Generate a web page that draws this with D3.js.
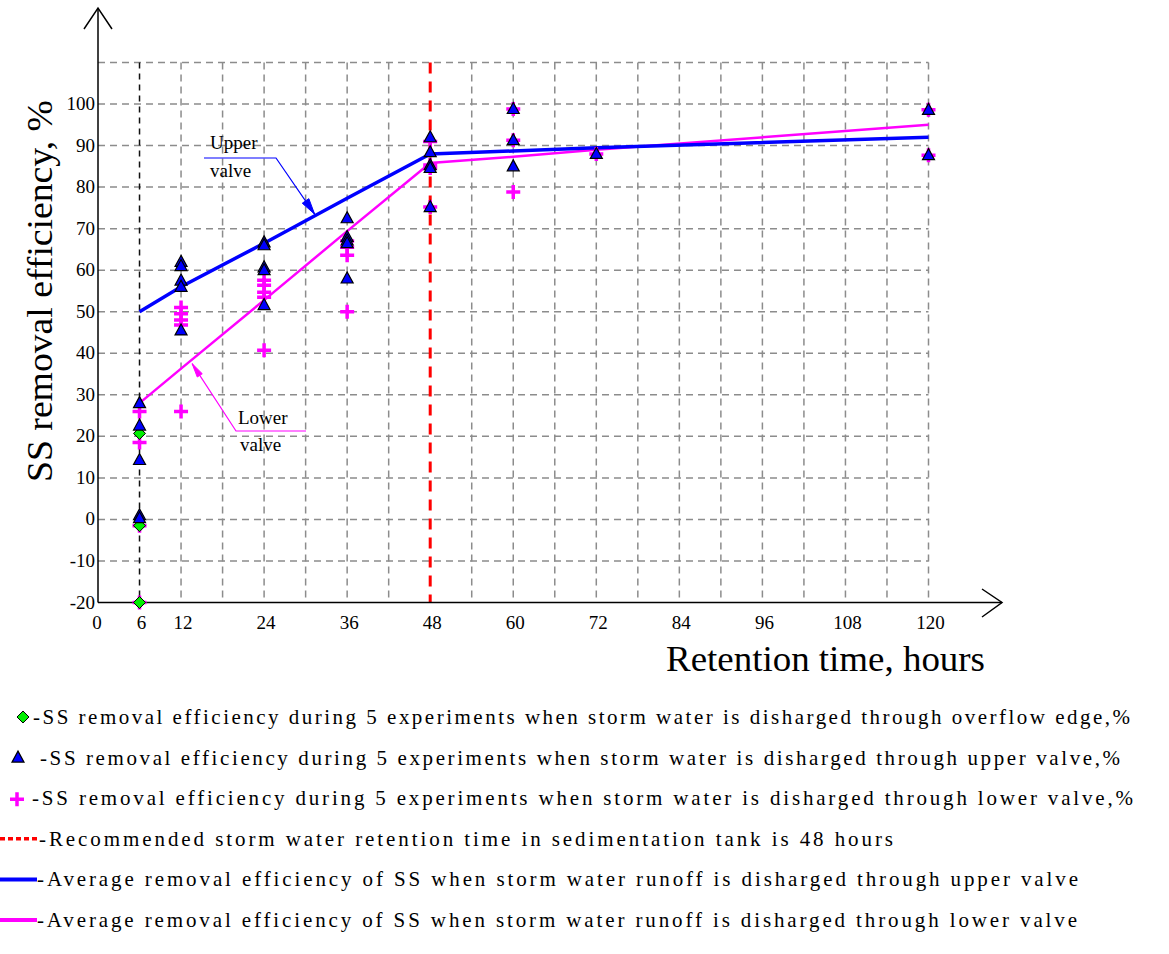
<!DOCTYPE html>
<html>
<head>
<meta charset="utf-8">
<script src="https://cdn.jsdelivr.net/npm/d3@7"></script>
<style>
  body { margin: 0; background: #fff; }
  svg text { font-family: "Liberation Serif", "DejaVu Serif", "Times New Roman", Times, serif; }
</style>
</head>
<body>
<svg id="chart" width="1169" height="954"></svg>
<script>
// retention time ticks and the hours where averages were computed
const xTicks = [0, 6, 12, 24, 36, 48, 60, 72, 84, 96, 108, 120];
const yTicks = [-20, -10, 0, 10, 20, 30, 40, 50, 60, 70, 80, 90, 100];
const avgHours = [6, 12, 24, 36, 48, 60, 72, 120];

// average removal efficiency lines
const upperAvg = [50, 56, 66.5, 77.3, 88, 88.7, 89.5, 92];
const lowerAvg = [28, 36.3, 52.8, 69.4, 85.8, 87.3, 89, 95];

// single experiment results [hours, %]
const overflowPts = [[6, 20.7], [6, -1.5], [6, -20]];
const upperPts = [
  [6, 28], [6, 22.6], [6, 14.3], [6, 1], [6, 0.3],
  [12, 62], [12, 61], [12, 57.5], [12, 56], [12, 45.5],
  [24, 66.7], [24, 60.7], [24, 60], [24, 51.6], [24, 66],
  [36, 72.5], [36, 68], [36, 67.2], [36, 58], [36, 66.5],
  [48, 92], [48, 88.4], [48, 85.3], [48, 84.6], [48, 75.2],
  [60, 98.8], [60, 91.3], [60, 85], [72, 88], [120, 98.6], [120, 87.7]
];
const lowerPts = [
  [6, 26], [6, 18.5], [6, -1.5], [6, -20],
  [12, 51], [12, 49.5], [12, 48], [12, 46.8], [12, 26],
  [24, 57.6], [24, 56.4], [24, 54.7], [24, 53.5], [24, 40.7],
  [36, 65.5], [36, 63.6], [36, 67], [36, 50],
  [48, 91], [48, 85.3], [48, 84.6], [48, 75.2],
  [60, 98.8], [60, 91.3], [60, 78.8], [72, 88], [120, 98.6], [120, 87.7]
];

const legendItems = [
  {type: 'diamond', text: '-SS removal efficiency during 5 experiments when storm water is disharged through overflow edge,%', x0: 33, x1: 1130},
  {type: 'triangle', text: '-SS removal efficiency during 5 experiments when storm water is disharged through upper valve,%', x0: 40, x1: 1120},
  {type: 'plus', text: '-SS removal efficiency during 5 experiments when storm water is disharged through lower valve,%', x0: 32, x1: 1133},
  {type: 'red', text: '-Recommended storm water retention time in sedimentation tank is 48 hours', x0: 39, x1: 893},
  {type: 'blue', text: '-Average removal efficiency of SS when storm water runoff is disharged through upper valve', x0: 37, x1: 1078},
  {type: 'magenta', text: '-Average removal efficiency of SS when storm water runoff is disharged through lower valve', x0: 37, x1: 1077}
];

const svg = d3.select('#chart');

const x = d3.scaleLinear().domain([0, 120]).range([98, 928.5]);
const y = d3.scaleLinear().domain([-20, 110]).range([602.5, 62.5]);

const grid = svg.append('g');
// horizontal grid
grid.selectAll('.hg')
  .data(d3.range(-10, 111, 10))
  .enter().append('line')
  .attr('x1', x(0)).attr('x2', x(120))
  .attr('y1', d => y(d)).attr('y2', d => y(d))
  .attr('stroke', '#8c8c8c').attr('stroke-width', 1.5)
  .attr('stroke-dasharray', '7,5');
// vertical grid every 6 hours
grid.selectAll('.vg')
  .data(d3.range(6, 121, 6).filter(d => d !== 6 && d !== 48))
  .enter().append('line')
  .attr('x1', d => x(d)).attr('x2', d => x(d))
  .attr('y1', y(110)).attr('y2', y(-20))
  .attr('stroke', '#8c8c8c').attr('stroke-width', 1.5)
  .attr('stroke-dasharray', '7,5');
grid.append('line')
  .attr('x1', x(6)).attr('x2', x(6))
  .attr('y1', y(110)).attr('y2', y(-20))
  .attr('stroke', '#111').attr('stroke-width', 1.5)
  .attr('stroke-dasharray', '6,5');
grid.append('line')
  .attr('x1', x(48)).attr('x2', x(48))
  .attr('y1', y(110)).attr('y2', y(-20))
  .attr('stroke', '#ff0000').attr('stroke-width', 3)
  .attr('stroke-dasharray', '11,8');

// axes with arrows
const axes = svg.append('g').attr('stroke', '#000').attr('fill', 'none').attr('stroke-width', 1.5);
axes.append('line').attr('x1', x(0)).attr('x2', x(0)).attr('y1', y(-20)).attr('y2', 8);
axes.append('polyline').attr('points', `${x(0) - 14},29 ${x(0)},8 ${x(0) + 14},29`);
axes.append('line').attr('x1', x(0)).attr('x2', 1002).attr('y1', y(-20)).attr('y2', y(-20));
axes.append('polyline').attr('points', `982,589 1002,${y(-20)} 982,617`);

// tick labels
svg.append('g').selectAll('text')
  .data(yTicks).enter().append('text')
  .attr('x', x(0) - 3).attr('y', d => y(d) + 6)
  .attr('text-anchor', 'end').attr('font-size', 19)
  .text(d => d);
svg.append('g').selectAll('text')
  .data(xTicks).enter().append('text')
  .attr('x', d => x(d) + (d === 0 ? -1 : 2)).attr('y', 629)
  .attr('text-anchor', 'middle').attr('font-size', 19)
  .text(d => d);

// axis titles
svg.append('text')
  .attr('x', 666).attr('y', 671)
  .attr('font-size', 35).attr('textLength', 319).attr('lengthAdjust', 'spacingAndGlyphs')
  .text('Retention time, hours');
svg.append('text')
  .attr('transform', 'translate(52,482) rotate(-90)')
  .attr('font-size', 35).attr('textLength', 382).attr('lengthAdjust', 'spacingAndGlyphs')
  .text('SS removal efficiency, %');

// average lines
const line = d3.line().x(d => x(d[0])).y(d => y(d[1]));
svg.append('path')
  .datum(avgHours.map((h, i) => [h, lowerAvg[i]]))
  .attr('d', line).attr('fill', 'none')
  .attr('stroke', '#ff00ff').attr('stroke-width', 2.5);
svg.append('path')
  .datum(avgHours.map((h, i) => [h, upperAvg[i]]))
  .attr('d', line).attr('fill', 'none')
  .attr('stroke', '#0000ff').attr('stroke-width', 3.5);

// markers
const plusPath = 'M-7,0H7M0,-7V7';
const diamondPath = 'M0,-6L6,0L0,6L-6,0Z';
const triPath = 'M0,-6.5L6,4.5L-6,4.5Z';

function drawPlus(g) {
  g.append('path').attr('d', plusPath).attr('stroke', '#ff00ff').attr('stroke-width', 3.5).attr('fill', 'none');
}
function drawDiamond(g) {
  g.append('path').attr('d', diamondPath).attr('fill', '#00ee00').attr('stroke', '#000').attr('stroke-width', 1);
}
function drawTri(g) {
  g.append('path').attr('d', triPath).attr('fill', '#0000ff').attr('stroke', '#000').attr('stroke-width', 1.2);
}

svg.append('g').selectAll('g')
  .data(lowerPts).enter().append('g')
  .attr('transform', d => `translate(${x(d[0])},${y(d[1])})`)
  .each(function() { drawPlus(d3.select(this)); });
svg.append('g').selectAll('g')
  .data(overflowPts).enter().append('g')
  .attr('transform', d => `translate(${x(d[0])},${y(d[1])})`)
  .each(function() { drawDiamond(d3.select(this)); });
svg.append('g').selectAll('g')
  .data(upperPts).enter().append('g')
  .attr('transform', d => `translate(${x(d[0])},${y(d[1])})`)
  .each(function() { drawTri(d3.select(this)); });

// annotations
function arrowHead(g, x1, y1, x2, y2, color, len, w) {
  const a = Math.atan2(y2 - y1, x2 - x1);
  const bx = x2 - len * Math.cos(a), by = y2 - len * Math.sin(a);
  const px = -Math.sin(a) * w / 2, py = Math.cos(a) * w / 2;
  g.append('path')
    .attr('d', `M${x2},${y2}L${bx + px},${by + py}L${bx - px},${by - py}Z`)
    .attr('fill', color).attr('stroke', color).attr('stroke-width', 1);
}

const ann = svg.append('g');
// upper valve
const upTip = [x(31.3), y(73.5)];
ann.append('polyline')
  .attr('points', `204,158 276,158 ${upTip[0]},${upTip[1]}`)
  .attr('fill', 'none').attr('stroke', '#0000ff').attr('stroke-width', 1.2);
arrowHead(ann, 276, 158, upTip[0], upTip[1], '#0000ff', 16, 8);
ann.append('text').attr('x', 210).attr('y', 149).attr('font-size', 19).text('Upper');
ann.append('text').attr('x', 210).attr('y', 177).attr('font-size', 19).text('valve');
// lower valve
const loTip = [x(13.6), y(37.5)];
ann.append('polyline')
  .attr('points', `306,431 236,431 ${loTip[0]},${loTip[1]}`)
  .attr('fill', 'none').attr('stroke', '#ff00ff').attr('stroke-width', 1.2);
arrowHead(ann, 236, 431, loTip[0], loTip[1], '#ff00ff', 14, 6);
ann.append('text').attr('x', 238).attr('y', 424).attr('font-size', 19).text('Lower');
ann.append('text').attr('x', 240).attr('y', 451).attr('font-size', 19).text('valve');

// legend
const legend = svg.append('g');
legendItems.forEach((d, i) => {
  const cy = 717 + i * 40.6;
  const g = legend.append('g');
  if (d.type === 'diamond') {
    drawDiamond(g.append('g').attr('transform', `translate(23,${cy})`));
  } else if (d.type === 'triangle') {
    drawTri(g.append('g').attr('transform', `translate(18,${cy})`));
  } else if (d.type === 'plus') {
    drawPlus(g.append('g').attr('transform', `translate(17,${cy + 1})`));
  } else {
    const col = d.type === 'red' ? '#ff0000' : d.type === 'blue' ? '#0000ff' : '#ff00ff';
    g.append('line')
      .attr('x1', 0).attr('x2', 37).attr('y1', cy).attr('y2', cy)
      .attr('stroke', col).attr('stroke-width', d.type === 'red' ? 3.5 : 4)
      .attr('stroke-dasharray', d.type === 'red' ? '5,3' : null);
  }
  g.append('text')
    .attr('x', d.x0).attr('y', cy + 7)
    .attr('font-size', 21)
    .attr('textLength', d.x1 - d.x0).attr('lengthAdjust', 'spacing')
    .text(d.text);
});
</script>
</body>
</html>
